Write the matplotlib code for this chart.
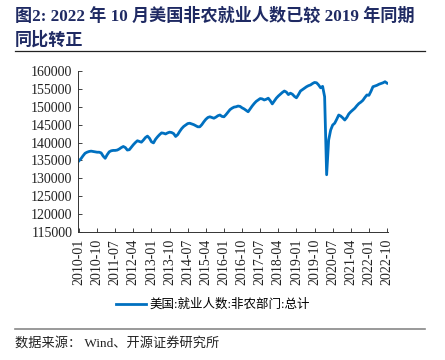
import numpy as np
import pandas as pd
import matplotlib
matplotlib.use("Agg")
from matplotlib import pyplot as plt

# monthly nonfarm employment (thousand)
months = pd.date_range("2010-01", "2022-10", freq="MS").strftime("%Y-%m").tolist()
emp_2010 = [134900, 135500, 136300, 137000, 137300, 137500, 137600, 137500, 137400, 137300, 137300, 137100]
emp_2011 = [136200, 135600, 136600, 137400, 137700, 137800, 137800, 137900, 138200, 138600, 138900, 138600]
emp_2012 = [137900, 138000, 138700, 139400, 140000, 140500, 140300, 140100, 140700, 141400, 141800, 141200]
emp_2013 = [140200, 139900, 140900, 141600, 142200, 142700, 142600, 142400, 142700, 142900, 142800, 142500]
emp_2014 = [141700, 142200, 143100, 143900, 144500, 144900, 145300, 145400, 145200, 145000, 144700, 144400]
emp_2015 = [144400, 145000, 145800, 146500, 147000, 147200, 147000, 146800, 147100, 147500, 147700, 147300]
emp_2016 = [147200, 147800, 148500, 149200, 149600, 149900, 150000, 150200, 150100, 149700, 149400, 149000]
emp_2017 = [148600, 149400, 150200, 150900, 151500, 151900, 152300, 152200, 151900, 152100, 152400, 151700]
emp_2018 = [150800, 151600, 152400, 153000, 153500, 154000, 154400, 154100, 153400, 153800, 153500, 152900]
emp_2019 = [152500, 153400, 154400, 154800, 155200, 155600, 155900, 156100, 156500, 156800, 156700, 156100]
emp_2020 = [155300, 155700, 152800, 131000, 140700, 143500, 144900, 145400, 146500, 147700, 147400, 146900]
emp_2021 = [146300, 147000, 148000, 148600, 149100, 149600, 150300, 150900, 151300, 151800, 152600, 153300]
emp_2022 = [153200, 154300, 155600, 155800, 156000, 156300, 156500, 156700, 157000, 156600]

employment = (emp_2010 + emp_2011 + emp_2012 + emp_2013 + emp_2014 + emp_2015 + emp_2016
              + emp_2017 + emp_2018 + emp_2019 + emp_2020 + emp_2021 + emp_2022)
y_ticks = list(range(115000, 160001, 5000))

TITLE = "图2: 2022 年 10 月美国非农就业人数已较 2019 年同期\n同比转正"
LEGEND = "美国:就业人数:非农部门:总计"
SOURCE = "数据来源： Wind、开源证券研究所"
CJK = ["Noto Sans CJK SC", "DejaVu Sans"]
# Times-like latin glyphs, CJK falls through to Noto
SERIF = ["Liberation Serif", "Noto Sans CJK SC"]

fig = plt.figure(figsize=(4.45, 3.6), dpi=100)
ax = fig.add_axes([0.1753, 0.3556, 0.872 - 0.1753, 0.8028 - 0.3556])

x = np.arange(len(employment))
line, = ax.plot(x, employment, color="#0070C0", lw=2.0, solid_joinstyle="round")

ax.set_xlim(-0.5, len(employment) - 0.5)
ax.set_ylim(115000, 160000)
ax.set_yticks(y_ticks)
ax.set_yticklabels([str(v) for v in y_ticks], family=SERIF, fontsize=10)
tick_idx = list(range(0, len(months), 9))
ax.set_xticks(tick_idx)
ax.set_xticklabels([months[i] for i in tick_idx], rotation=90, family=SERIF, fontsize=10)
ax.tick_params(axis="x", direction="in", length=3, width=0.6, pad=5, colors="#222222")
ax.tick_params(axis="y", direction="in", length=3, width=0.6, pad=4, colors="#222222")
for s in ["top", "right"]:
    ax.spines[s].set_visible(False)
for s in ["left", "bottom"]:
    ax.spines[s].set_linewidth(0.7)
    ax.spines[s].set_color("#333333")

fig.legend([line], [LEGEND], loc="center", bbox_to_anchor=(213 / 445, 1 - 305 / 360),
           frameon=False, prop={"family": SERIF, "size": 9}, handlelength=2.4,
           handletextpad=0.3)

fig.text(15 / 445, 1 - 28 / 360, TITLE, family=SERIF, fontsize=12.3, fontweight="bold",
         color="#1F2A63", va="center", ha="left", linespacing=1.45)
fig.add_artist(plt.Line2D([15 / 445, 425 / 445], [1 - 51 / 360] * 2, color="#222222", lw=0.9))
fig.add_artist(plt.Line2D([15 / 445, 425 / 445], [1 - 329 / 360] * 2, color="#888888", lw=1.2))
fig.text(15 / 445, 1 - 343 / 360, SOURCE, family=SERIF, fontsize=9.5, va="center", ha="left",
         color="#222222")

fig.savefig("out.png", dpi=100)
